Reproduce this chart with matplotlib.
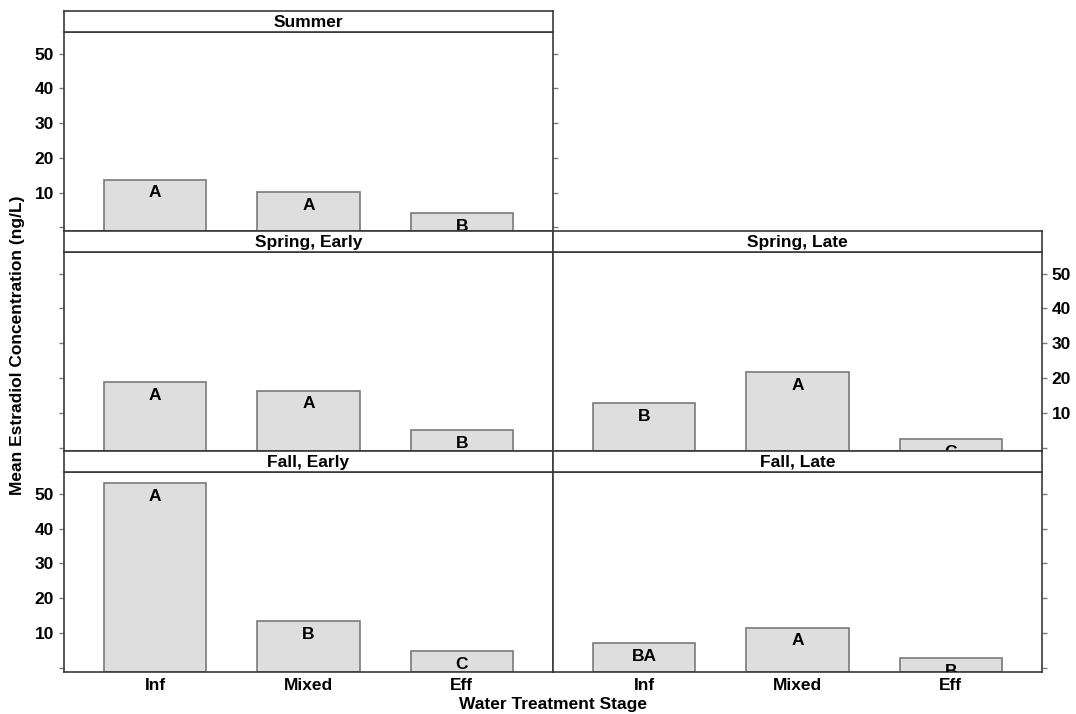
import matplotlib
matplotlib.use("Agg")
import matplotlib.pyplot as plt

plt.rcParams['font.family'] = ['Liberation Sans', 'DejaVu Sans']
plt.rcParams['font.weight'] = 'bold'

stages = ["Inf", "Mixed", "Eff"]
seasons = ["Summer", "Spring, Early", "Spring, Late", "Fall, Early", "Fall, Late"]

summer = [13.7, 10.2, 4.1]
spring_early = [18.8, 16.4, 5.0]
spring_late = [12.8, 21.7, 2.5]
fall_early = [53.0, 13.5, 4.8]
fall_late = [7.2, 11.6, 2.9]

summer_groups = ["A", "A", "B"]
spring_early_groups = ["A", "A", "B"]
spring_late_groups = ["B", "A", "C"]
fall_early_groups = ["A", "B", "C"]
fall_late_groups = ["BA", "A", "B"]

yticks = [0, 10, 20, 30, 40, 50]
ytick_labels = ["", "10", "20", "30", "40", "50"]

W, H = 1076, 714
YMIN, YMAX = -0.95, 56.3
EDGE = "#3a3a3a"
TICK = "#7a7a7a"
FS = 12.5

# pixel layout of the lattice
cols = [(64, 553), (553, 1042)]
rows = [(11, 31.7, 230.7), (230.7, 251.7, 451), (451, 471.7, 671.5)]


def rect(x0, y0, x1, y1):
    return [x0 / W, 1 - y1 / H, (x1 - x0) / W, (y1 - y0) / H]


# (values, groups, title, row, col, tick side, tick label side, x labels)
panels = [
    (summer, summer_groups, seasons[0], 0, 0, "both", "left", False),
    (spring_early, spring_early_groups, seasons[1], 1, 0, "left", None, False),
    (spring_late, spring_late_groups, seasons[2], 1, 1, "right", "right", False),
    (fall_early, fall_early_groups, seasons[3], 2, 0, "left", "left", True),
    (fall_late, fall_late_groups, seasons[4], 2, 1, "right", None, True),
]

fig = plt.figure(figsize=(W / 100, H / 100), dpi=100)

for vals, groups, title, r, c, side, lab_side, xlab in panels:
    x0, x1 = cols[c]
    htop, hbot, pbot = rows[r]

    ax = fig.add_axes(rect(x0, hbot, x1, pbot))
    xs = range(len(stages))
    heights = [v - YMIN for v in vals]
    ax.bar(xs, heights, bottom=YMIN, width=0.667, color="#dedede",
           edgecolor="#7a7a7a", linewidth=1.2, zorder=2)
    for x, v, g in zip(xs, vals, groups):
        ax.annotate(g, (x, v), xytext=(0, -9.5), textcoords="offset points",
                    ha="center", va="center", fontsize=FS, fontweight="bold",
                    annotation_clip=False, clip_on=True, zorder=3)
    ax.set_xlim(-0.595, 2.595)
    ax.set_ylim(YMIN, YMAX)
    ax.set_yticks(yticks)
    ax.set_yticklabels(ytick_labels)
    ax.set_xticks(list(xs))
    if xlab:
        ax.set_xticklabels(stages)
    else:
        ax.set_xticklabels([])
    ax.tick_params(axis="x", length=0, pad=5, labelsize=FS)
    ax.tick_params(axis="y", direction="out", length=3.6, width=1, color=TICK,
                   labelsize=FS, pad=3.5,
                   left=side in ("left", "both"), right=side in ("right", "both"),
                   labelleft=lab_side == "left", labelright=lab_side == "right")
    for s in ax.spines.values():
        s.set_color(EDGE)
        s.set_linewidth(1.2)

    hx = fig.add_axes(rect(x0, htop, x1, hbot))
    hx.set_xticks([])
    hx.set_yticks([])
    hx.set_facecolor("white")
    for s in hx.spines.values():
        s.set_color(EDGE)
        s.set_linewidth(1.2)
    hx.text(0.5, 0.45, title, ha="center", va="center", fontsize=FS,
            fontweight="bold", transform=hx.transAxes)

fig.text(18 / W, 1 - 345 / H, "Mean Estradiol Concentration (ng/L)",
         rotation=90, ha="center", va="center", fontsize=FS, fontweight="bold")
fig.text(553 / W, 1 - 704 / H, "Water Treatment Stage", ha="center",
         va="center", fontsize=FS, fontweight="bold")

fig.savefig("out.png", dpi=100, facecolor="white")
